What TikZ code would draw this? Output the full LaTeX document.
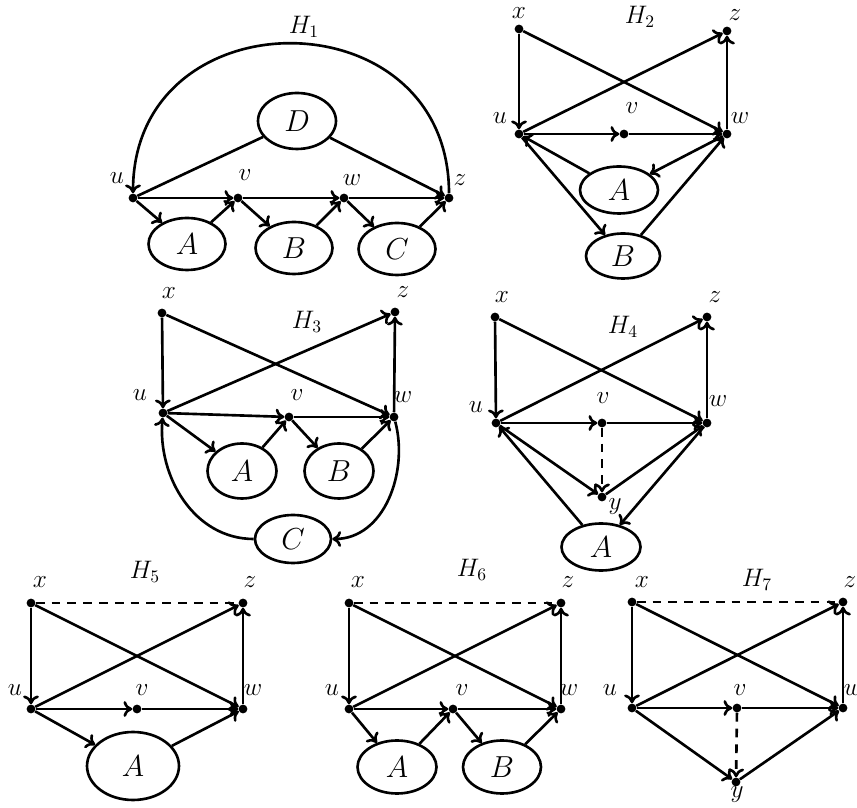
\documentclass[tikz,border=0pt]{standalone}
\usepackage{tikz}
\usetikzlibrary{arrows.meta,shapes.geometric}

\begin{document}
\begin{tikzpicture}[
  x=0.02cm,y=0.02cm,>={To[length=5pt,width=9pt]},
  vertex/.style={circle,fill=black,inner sep=0pt,minimum size=5pt},
  blob/.style={ellipse,draw,line width=1.5pt,inner sep=0pt,minimum width=1.54cm,minimum height=1.04cm,font=\LARGE},
  tag/.style={font=\Large,inner sep=0pt},
  link/.style={->,line width=1.5pt},
  bare/.style={line width=1.5pt},
  dlink/.style={line width=1.5pt,dash pattern=on 5pt off 4pt}
]
\useasboundingbox (0,0) rectangle (857,807);

% H1
\node[tag] (h1) at (304,780) {$H_1$};
\node[vertex] (u1) at (133,609) {};
\node[vertex] (v1) at (238,609) {};
\node[vertex] (w1) at (344,609) {};
\node[vertex] (z1) at (449,609) {};
\node[blob,minimum width=1.56cm,minimum height=1.12cm] (D1) at (297,686) {$D$};
\node[blob] (A1) at (187,563) {$A$};
\node[blob] (B1) at (294,559) {$B$};
\node[blob] (C1) at (397,558) {$C$};
\node[tag] (lu1) at (117,629) {$u$};
\node[tag] (lv1) at (245,632) {$v$};
\node[tag] (lw1) at (352,627) {$w$};
\node[tag] (lz1) at (460,627) {$z$};
\draw[link] (z1) to[out=90,in=90,looseness=1.62] (u1);
\draw[bare] (u1) -- (D1);
\draw[link] (D1) -- (z1);
\draw[link] (u1) -- (v1);
\draw[link] (v1) -- (w1);
\draw[link] (w1) -- (z1);
\draw[link] (u1) -- (A1);
\draw[link] (A1) -- (v1);
\draw[link] (v1) -- (B1);
\draw[link] (B1) -- (w1);
\draw[link] (w1) -- (C1);
\draw[link] (C1) -- (z1);

% H2
\node[tag] (h2) at (640,790) {$H_2$};
\node[vertex] (x2) at (519,778) {};
\node[vertex] (u2) at (519,673) {};
\node[vertex] (v2) at (624,673) {};
\node[vertex] (w2) at (727,673) {};
\node[vertex] (z2) at (727,776) {};
\node[blob,minimum width=1.56cm,minimum height=0.94cm] (A2) at (619,617) {$A$};
\node[blob,minimum width=1.48cm,minimum height=0.9cm] (B2) at (623,551) {$B$};
\node[tag] (lx2) at (519,794) {$x$};
\node[tag] (lu2) at (500,689) {$u$};
\node[tag] (lv2) at (632,699) {$v$};
\node[tag] (lw2) at (740,689) {$w$};
\node[tag] (lz2) at (735,792) {$z$};
\draw[link] (x2) -- (u2);
\draw[link] (x2) -- (w2);
\draw[link] (u2) -- (z2);
\draw[link] (w2) -- (z2);
\draw[link] (u2) -- (v2);
\draw[link] (v2) -- (w2);
\draw[link] (w2) -- (A2);
\draw[link] (A2) -- (u2);
\draw[link] (u2) -- (B2);
\draw[link] (B2) -- (w2);

% H3
\node[tag] (h3) at (307,485) {$H_3$};
\node[vertex] (x3) at (162,494) {};
\node[vertex] (z3) at (395,495) {};
\node[vertex] (u3) at (163,394) {};
\node[vertex] (v3) at (289,390) {};
\node[vertex] (w3) at (394,390) {};
\node[blob,minimum width=1.38cm,minimum height=1.1cm] (A3) at (242,336) {$A$};
\node[blob,minimum width=1.38cm,minimum height=1.1cm] (B3) at (339,336) {$B$};
\node[blob,minimum width=1.52cm,minimum height=0.96cm] (C3) at (293,268) {$C$};
\node[tag] (lx3) at (169,514) {$x$};
\node[tag] (lz3) at (403,515) {$z$};
\node[tag] (lu3) at (140,412) {$u$};
\node[tag] (lv3) at (297,412) {$v$};
\node[tag] (lw3) at (403,410) {$w$};
\draw[link] (x3) -- (u3);
\draw[link] (x3) -- (w3);
\draw[link] (u3) -- (z3);
\draw[link] (w3) -- (z3);
\draw[link] (u3) -- (v3);
\draw[link] (v3) -- (w3);
\draw[link] (u3) -- (A3);
\draw[link] (A3) -- (v3);
\draw[link] (v3) -- (B3);
\draw[link] (B3) -- (w3);
\draw[link] (C3.west) to[out=180,in=-95] (u3);
\draw[link] (w3) to[out=-75,in=0] (C3.east);

% H4
\node[tag] (h4) at (623,480) {$H_4$};
\node[vertex] (x4) at (495,490) {};
\node[vertex] (z4) at (707,490) {};
\node[vertex] (u4) at (496,384) {};
\node[vertex] (v4) at (602,384) {};
\node[vertex] (w4) at (707,384) {};
\node[vertex] (y4) at (602,310) {};
\node[blob,minimum width=1.58cm,minimum height=0.94cm] (A4) at (601,260) {$A$};
\node[tag] (lx4) at (502,510) {$x$};
\node[tag] (lz4) at (715,510) {$z$};
\node[tag] (lu4) at (476,400) {$u$};
\node[tag] (lv4) at (603,409) {$v$};
\node[tag] (lw4) at (718,406) {$w$};
\node[tag] (ly4) at (615,300) {$y$};
\draw[link] (x4) -- (u4);
\draw[link] (x4) -- (w4);
\draw[link] (u4) -- (z4);
\draw[link] (w4) -- (z4);
\draw[link] (u4) -- (v4);
\draw[link] (v4) -- (w4);
\draw[dlink,->] (v4) -- (y4);
\draw[link] (u4) -- (y4);
\draw[link] (y4) -- (w4);
\draw[link] (A4) -- (u4);
\draw[link] (w4) -- (A4);

% H5
\node[tag] (h5) at (145,235) {$H_5$};
\node[vertex] (x5) at (31,204) {};
\node[vertex] (z5) at (243,204) {};
\node[vertex] (u5) at (31,98) {};
\node[vertex] (v5) at (137,98) {};
\node[vertex] (w5) at (243,98) {};
\node[blob,minimum width=1.84cm,minimum height=1.36cm] (A5) at (133,41) {$A$};
\node[tag] (lx5) at (40,225) {$x$};
\node[tag] (lz5) at (250,225) {$z$};
\node[tag] (lu5) at (15,117) {$u$};
\node[tag] (lv5) at (142,117) {$v$};
\node[tag] (lw5) at (253,117) {$w$};
\draw[dlink] (x5) -- (z5);
\draw[link] (x5) -- (u5);
\draw[link] (x5) -- (w5);
\draw[link] (u5) -- (z5);
\draw[link] (w5) -- (z5);
\draw[link] (u5) -- (v5);
\draw[link] (v5) -- (w5);
\draw[link] (u5) -- (A5);
\draw[link] (A5) -- (w5);

% H6
\node[tag] (h6) at (472,237) {$H_6$};
\node[vertex] (x6) at (349,204) {};
\node[vertex] (z6) at (561,204) {};
\node[vertex] (u6) at (349,98) {};
\node[vertex] (v6) at (453,98) {};
\node[vertex] (w6) at (561,98) {};
\node[blob,minimum width=1.58cm,minimum height=1.06cm] (A6) at (397,40) {$A$};
\node[blob,minimum width=1.56cm,minimum height=1.06cm] (B6) at (502,40) {$B$};
\node[tag] (lx6) at (358,225) {$x$};
\node[tag] (lz6) at (568,225) {$z$};
\node[tag] (lu6) at (332,117) {$u$};
\node[tag] (lv6) at (462,117) {$v$};
\node[tag] (lw6) at (569,117) {$w$};
\draw[dlink] (x6) -- (z6);
\draw[link] (x6) -- (u6);
\draw[link] (x6) -- (w6);
\draw[link] (u6) -- (z6);
\draw[link] (w6) -- (z6);
\draw[link] (u6) -- (v6);
\draw[link] (v6) -- (w6);
\draw[link] (u6) -- (A6);
\draw[link] (A6) -- (v6);
\draw[link] (v6) -- (B6);
\draw[link] (B6) -- (w6);

% H7
\node[tag] (h7) at (757,227) {$H_7$};
\node[vertex] (x7) at (632,205) {};
\node[vertex] (z7) at (843,205) {};
\node[vertex] (u7) at (632,99) {};
\node[vertex] (v7) at (737,99) {};
\node[vertex] (w7) at (843,99) {};
\node[vertex] (y7) at (736,25) {};
\node[tag] (lx7) at (642,225) {$x$};
\node[tag] (lz7) at (850,225) {$z$};
\node[tag] (lu7) at (610,117) {$u$};
\node[tag] (lv7) at (740,117) {$v$};
\node[tag] (lw7) at (853,117) {$w$};
\node[tag] (ly7) at (737,12) {$y$};
\draw[dlink] (x7) -- (z7);
\draw[link] (x7) -- (u7);
\draw[link] (x7) -- (w7);
\draw[link] (u7) -- (z7);
\draw[link] (w7) -- (z7);
\draw[link] (u7) -- (v7);
\draw[link] (v7) -- (w7);
\draw[dlink,->] (v7) -- (y7);
\draw[link] (u7) -- (y7);
\draw[link] (y7) -- (w7);
\end{tikzpicture}
\end{document}
